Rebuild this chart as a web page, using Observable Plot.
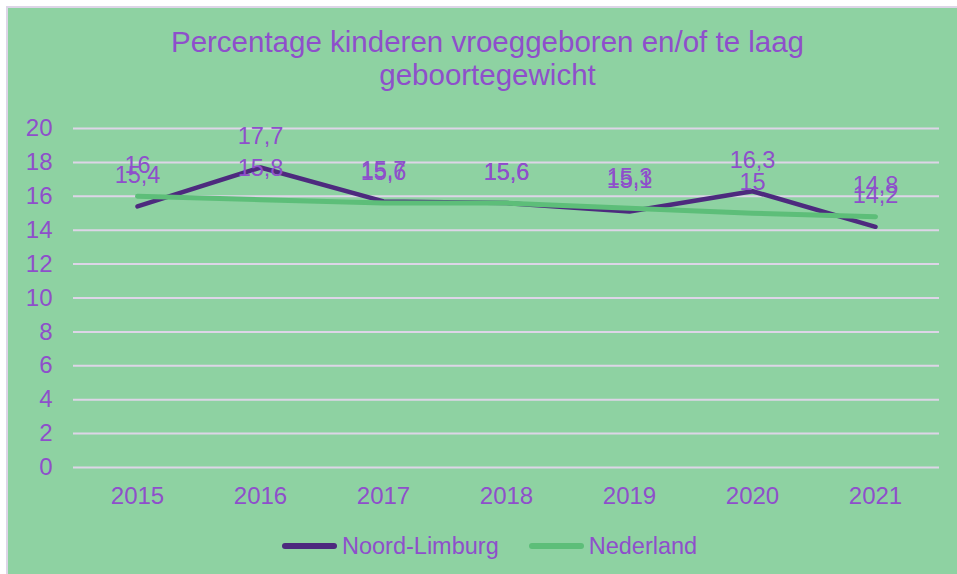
<!DOCTYPE html>
<html>
<head>
<meta charset="utf-8">
<script src="https://cdn.jsdelivr.net/npm/d3@7"></script>
<script src="https://cdn.jsdelivr.net/npm/@observablehq/plot@0.6"></script>
<style>
  html, body { margin: 0; padding: 0; background: #ffffff; width: 957px; height: 574px; overflow: hidden; }
  body { font-family: "Liberation Sans", Arial, sans-serif; position: relative; }
  #box { position: absolute; left: 6px; top: 6px; width: 1000px; height: 620px; background: #8ed2a2; border: 2px solid #ddd5e7; }
  #title { position: absolute; left: 0; top: 25px; width: 975px; text-align: center; font-size: 29.5px; line-height: 33px; color: #8e4fcb; }
  #chart { position: absolute; left: 0; top: 100px; }
  #legend { position: absolute; left: 282px; top: 531px; height: 30px; display: flex; align-items: center; font-size: 23.5px; color: #8e4fcb; }
  .sw { display: inline-block; width: 55px; height: 6px; border-radius: 3px; margin-right: 5px; }
</style>
</head>
<body>
<div id="box"></div>
<div id="title">Percentage kinderen vroeggeboren en/of te laag<br>geboortegewicht</div>
<div id="chart"></div>
<div id="legend"></div>
<script>
const years = ["2015", "2016", "2017", "2018", "2019", "2020", "2021"];
const noordLimburg = [15.4, 17.7, 15.7, 15.6, 15.1, 16.3, 14.2];
const nederland = [16, 15.8, 15.6, 15.6, 15.3, 15, 14.8];
const yTicks = [0, 2, 4, 6, 8, 10, 12, 14, 16, 18, 20];
const seriesNames = ["Noord-Limburg", "Nederland"];
const seriesColors = ["#4d2a7e", "#5dbe79"];

const labelColor = "#8e4fcb";
const rows = [];
years.forEach((y, i) => rows.push({year: y, value: noordLimburg[i], series: seriesNames[0]}));
years.forEach((y, i) => rows.push({year: y, value: nederland[i], series: seriesNames[1]}));
const fmt = v => String(v).replace(".", ",");

const chart = Plot.plot({
  width: 957,
  height: 420,
  marginTop: 28,
  marginBottom: 53,
  marginLeft: 73,
  marginRight: 18,
  style: {background: "transparent", fontFamily: "'Liberation Sans', Arial, sans-serif", fontSize: "24px", color: labelColor, overflow: "visible"},
  x: {type: "point", domain: years, padding: 0.5, label: null},
  y: {domain: [0, 20], label: null},
  marks: [
    Plot.ruleY(yTicks, {stroke: "#ddd5e7", strokeWidth: 2}),
    Plot.axisY({ticks: yTicks, tickSize: 0, tickPadding: 21, fontSize: 24, fill: labelColor, label: null}),
    Plot.axisX({tickSize: 0, tickPadding: 19, fontSize: 24, fill: labelColor, label: null}),
    Plot.line(rows.filter(d => d.series === seriesNames[0]), {x: "year", y: "value", stroke: seriesColors[0], strokeWidth: 4.5, strokeLinecap: "round", strokeLinejoin: "round"}),
    Plot.line(rows.filter(d => d.series === seriesNames[1]), {x: "year", y: "value", stroke: seriesColors[1], strokeWidth: 5, strokeLinecap: "round", strokeLinejoin: "round"}),
    Plot.text(rows, {x: "year", y: "value", text: d => fmt(d.value), dy: -31, fill: labelColor, fontSize: 23.5})
  ]
});
document.getElementById("chart").appendChild(chart);

const legend = document.getElementById("legend");
seriesNames.forEach((name, i) => {
  const item = document.createElement("span");
  item.style.display = "inline-flex";
  item.style.alignItems = "center";
  item.style.marginRight = i === 0 ? "30px" : "0";
  const sw = document.createElement("span");
  sw.className = "sw";
  sw.style.background = seriesColors[i];
  const t = document.createElement("span");
  t.textContent = name;
  item.appendChild(sw);
  item.appendChild(t);
  legend.appendChild(item);
});
</script>
</body>
</html>
